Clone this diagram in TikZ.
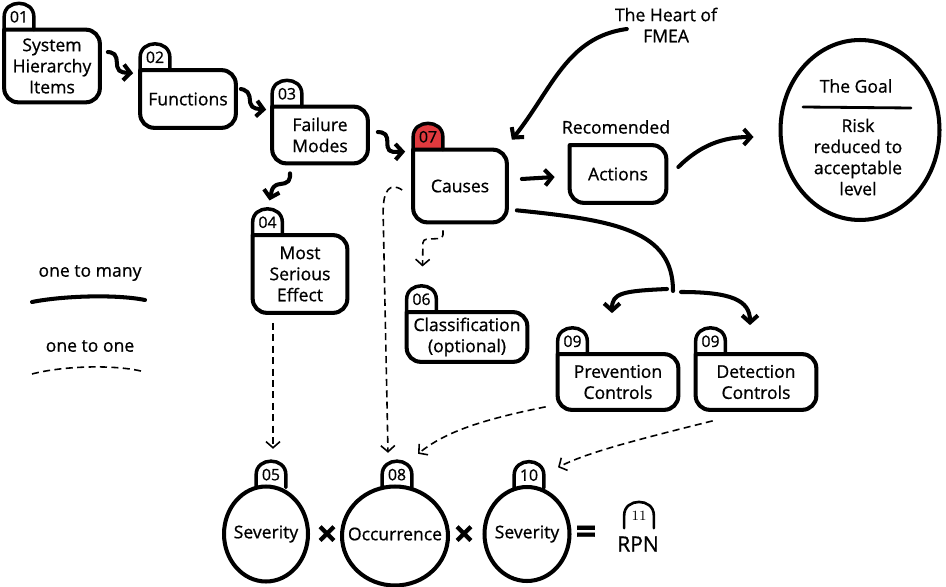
\documentclass[tikz,border=0pt]{standalone}
\usepackage{fontspec}
\setmainfont{Open Sans}[FakeBold=0.8]
\newfontfamily\numfont{Latin Modern Roman}
\usetikzlibrary{arrows.meta,calc,shapes.geometric,backgrounds}
\definecolor{tabred}{HTML}{E03A3E}
\tikzset{
	boxn/.style={align=center, inner sep=0pt},
	outline/.style={line width=2.3pt, rounded corners=8pt, line cap=round, line join=round},
	ring/.style={draw, ellipse, line width=2.3pt, inner sep=0pt},
	tabnum/.style={inner sep=0pt, minimum width=0.58cm, minimum height=0.5cm, font=\small},
	tabline/.style={line width=2pt, line cap=round, line join=round},
	conn/.style={line width=2.3pt, line cap=round, line join=round, rounded corners=3pt, -{Straight Barb[length=4pt,width=9pt]}},
	link/.style={line width=2.3pt, line cap=round},
	dconn/.style={line width=0.9pt, dash pattern=on 4pt off 2.5pt, rounded corners=2pt, -{Straight Barb[length=3.5pt,width=8pt]}},
}
\begin{document}
\begin{tikzpicture}[x=0.02cm, y=-0.02cm]
	\useasboundingbox (0,0) rectangle (946,587);
	
	% Kaesten
	\node [boxn, minimum width=1.9cm, minimum height=1.44cm] (b01) at (52,66) {System\\Hierarchy\\Items};
	\node [boxn, minimum width=1.9cm, minimum height=1.14cm] (b02) at (188,99) {Functions};
	\node [boxn, minimum width=1.9cm, minimum height=1.12cm] (b03) at (320,135) {Failure\\Modes};
	\node [boxn, minimum width=1.86cm, minimum height=1.44cm] (b07) at (460,186) {Causes};
	\node [boxn, minimum width=1.92cm, minimum height=1.14cm] (bact) at (618,174) {Actions};
	\node [boxn, minimum width=1.88cm, minimum height=1.54cm] (b04) at (300,274) {Most\\Serious\\Effect};
	\node [boxn, minimum width=2.4cm, minimum height=0.98cm] (b06) at (467,337) {Classification\\(optional)};
	\node [boxn, minimum width=2.4cm, minimum height=1.1cm] (b09a) at (618,382) {Prevention\\Controls};
	\node [boxn, minimum width=2.4cm, minimum height=1.1cm] (b09b) at (756,382) {Detection\\Controls};
	
	% Kreise unten
	\node [ring, minimum width=1.68cm, minimum height=1.9cm] (c05) at (266,534) {};
	\node [ring, minimum width=2.12cm, minimum height=1.98cm] (c08) at (395,536) {};
	\node [ring, minimum width=1.7cm, minimum height=1.88cm] (c10) at (527,534) {};
	\node (l05) at (c05) {Severity};
	\node (l08) at (395,534) {Occurrence};
	\node (l10) at (c10) {Severity};
	\node [font=\huge\bfseries] (mul1) at (327,536) {×};
	\node [font=\huge\bfseries] (mul2) at (464,536) {×};
	\node [font=\huge\bfseries] (eq) at (586,535) {=};
	\node [font=\large] (rpn) at (638,544) {RPN};
	
	% Nummern
	\node [tabnum, anchor=south west] (t01) at (b01.north west) {01};
	\node [tabnum, anchor=south west] (t02) at (b02.north west) {02};
	\node [tabnum, anchor=south west] (t03) at (b03.north west) {03};
	\node [tabnum, anchor=south west] (t04) at (b04.north west) {04};
	\node [tabnum, anchor=south west] (t06) at (b06.north west) {06};
	\node [tabnum, anchor=south west] (t07) at (b07.north west) {07};
	\node [tabnum, anchor=south west] (t09a) at (b09a.north west) {09};
	\node [tabnum, anchor=south west] (t09b) at (b09b.north west) {09};
	\node [tabnum, anchor=south] (t05) at ($(c05.north)+(5,3)$) {05};
	\node [tabnum, anchor=south] (t08) at ($(c08.north)+(2,3)$) {08};
	\node [tabnum, anchor=south] (t10) at ($(c10.north)+(2,3)$) {10};
	\node [tabnum, anchor=south, font=\numfont\footnotesize] (t11) at ($(rpn.north)+(1,-2)$) {11};
	
	\begin{scope}[on background layer]
		\fill [white] (0,0) rectangle (946,587);
		\fill [tabred] (t07.south west) -- (t07.west) .. controls +(0,-18) and +(0,-18) .. (t07.east) -- (t07.south east) -- cycle;	% rote Lasche
	\end{scope}
	\foreach \b in {b01,b02,b03,b04,b06,b07,bact,b09a,b09b}
		\draw [outline] (\b.north west) -- (\b.north east) -- (\b.south east) -- (\b.south west) -- (\b.north west);
	\foreach \t in {t01,t02,t03,t04,t06,t07,t09a,t09b,t05,t08,t10}
		\draw [tabline] (\t.south west) -- (\t.west) .. controls +(0,-18) and +(0,-18) .. (\t.east) -- (\t.south east);
	\draw [tabline, line width=1.5pt] (t11.south west) -- (t11.west) .. controls +(0,-18) and +(0,-18) .. (t11.east) -- (t11.south east);
	
	% Ziel
	\node [ring, minimum width=3.18cm, minimum height=3.6cm] (goal) at (860,130) {};
	\node (goalt) at (856,86) {The Goal};
	\draw [link, line width=1.6pt] ($(goal.center)+(-57,-23)$) -- ($(goal.center)+(51,-22)$);	% Trennstrich
	\node [align=center] (risk) at (858,157) {Risk\\reduced to\\acceptable\\level};
	
	\node [align=center] (heart) at (666,25) {The Heart of\\FMEA};
	\node (rec) at (616,127) {Recomended};
	
	% Legende
	\node (lg1) at (90,273) {one to many};
	\draw [link] ($(lg1.center)+(-58,29)$) .. controls +(30,-6) and +(-30,-6) .. ($(lg1.center)+(55,27)$);
	\node (lg2) at (90,346) {one to one};
	\draw [line width=0.9pt, dash pattern=on 4pt off 2.5pt] ($(lg2.center)+(-58,28)$) .. controls +(30,-8) and +(-30,-8) .. ($(lg2.center)+(55,26)$);
	
	% Pfeile
	\draw [conn] ($(b01.east)+(8,-14)$) -- ++(8,1) -- ++(2,19) -- ($(b02.north west)+(-7,3)$);
	\draw [conn] ($(b02.east)+(5,-10)$) -- ++(8,2) -- ++(2,17) -- ($(b03.north west)+(-6,3)$);
	\draw [conn] ($(b03.east)+(10,-3)$) -- ++(9,1) -- ++(1,19) -- ($(b07.north west)+(-8,2)$);
	\draw [conn] ($(b03.south)+(-30,10)$) -- ++(0,9) -- ++(-17,3) -- ($(t04.north)+(2,-9)$);
	\draw [conn] ($(b07.east)+(15,-7)$) -- ($(bact.west)+(-15,3)$);
	\draw [conn] ($(bact.east)+(12,-7)$) .. controls +(22,-22) and +(-30,0) .. ($(goal.west)+(-25,7)$);
	\draw [conn] ($(heart.west)+(18,4)$) .. controls +(-60,8) and +(40,-50) .. ($(b07.north east)+(5,-10)$);
	\coordinate (split) at (673,291);
	\draw [link] ($(b07.south east)+(10,-12)$) .. controls +(100,10) and +(0,-60) .. (split);
	\draw [conn] ($(split)+(-6,-2)$) .. controls +(-45,2) and +(0,-20) .. ($(b09a.north)+(-6,-41)$);
	\draw [conn] ($(split)+(8,1)$) .. controls +(50,0) and +(0,-25) .. ($(b09b.north)+(-6,-29)$);
	
	% gestrichelt
	\draw [dconn] ($(b07.south)+(-17,8)$) -- ++(0,8) -- ++(-20,1) -- ($(t06.north)+(1,-20)$);
	\draw [dconn] ($(b07.west)+(-11,4)$) .. controls +(-12,-8) and +(0,-25) .. +(-19,25) -- ($(t08.north)+(-9,-9)$);
	\draw [dconn] ($(b04.south)+(-27,10)$) -- ($(t05.north)+(2,-13)$);
	\draw [dconn] ($(b09a.south west)+(-12,-3)$) .. controls +(-70,14) and +(25,-20) .. ($(t08.north)+(21,-8)$);
	\draw [dconn] ($(b09b.south west)+(17,11)$) .. controls +(-80,20) and +(30,-15) .. ($(t10.north)+(29,5)$);

\end{tikzpicture}
\end{document}
